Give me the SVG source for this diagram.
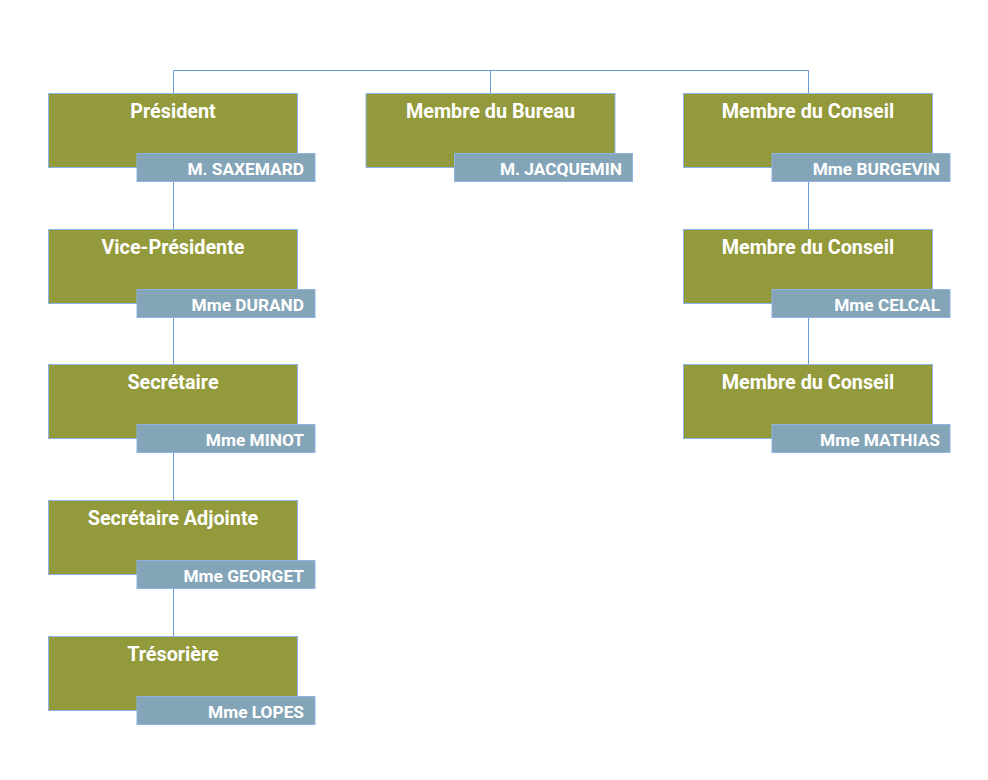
<svg xmlns="http://www.w3.org/2000/svg" width="988" height="780" viewBox="0 0 988 780">
<style>
.box{fill:#939A3B;stroke:#8EB4E3;stroke-width:1}
.nm{fill:#84A5B8;stroke:#8EB4E3;stroke-width:1}
.t{font-family:Roboto,"Liberation Sans",sans-serif;font-weight:bold;fill:#fff}
.tt{font-size:19.8px;text-anchor:middle}
.tn{font-size:17.3px;text-anchor:end}
.c{fill:none;stroke:#6A9AD8;stroke-width:1}
</style>
<rect width="988" height="780" fill="#fff"/>
<g id="connectors">
<path class="c" d="M173.5 93V70.5H808.5V93M490.5 70.5V93"/>
<path class="c" d="M173.5 182V229M173.5 318V364M173.5 453V500M173.5 589V636"/>
<path class="c" d="M808.5 182V229M808.5 318V364"/>
</g>
<g id="president">
<rect class="box" x="48.5" y="93.5" width="249" height="74"/>
<rect class="nm" x="137" y="153.5" width="178" height="28"/>
<text class="t tt" x="173" y="118">Président</text>
<text class="t tn" x="304" y="175">M. SAXEMARD</text>
</g>
<g id="vice-presidente">
<rect class="box" x="48.5" y="229.5" width="249" height="74"/>
<rect class="nm" x="137" y="289.5" width="178" height="28"/>
<text class="t tt" x="173" y="254">Vice-Présidente</text>
<text class="t tn" x="304" y="311">Mme DURAND</text>
</g>
<g id="secretaire">
<rect class="box" x="48.5" y="364.5" width="249" height="74"/>
<rect class="nm" x="137" y="424.5" width="178" height="28"/>
<text class="t tt" x="173" y="389">Secrétaire</text>
<text class="t tn" x="304" y="446">Mme MINOT</text>
</g>
<g id="secretaire-adjointe">
<rect class="box" x="48.5" y="500.5" width="249" height="74"/>
<rect class="nm" x="137" y="560.5" width="178" height="28"/>
<text class="t tt" x="173" y="525">Secrétaire Adjointe</text>
<text class="t tn" x="304" y="582">Mme GEORGET</text>
</g>
<g id="tresoriere">
<rect class="box" x="48.5" y="636.5" width="249" height="74"/>
<rect class="nm" x="137" y="696.5" width="178" height="28"/>
<text class="t tt" x="173" y="661">Trésorière</text>
<text class="t tn" x="304" y="718">Mme LOPES</text>
</g>
<g id="membre-bureau">
<rect class="box" x="366" y="93.5" width="249" height="74"/>
<rect class="nm" x="454.5" y="153.5" width="178" height="28"/>
<text class="t tt" x="490.5" y="118">Membre du Bureau</text>
<text class="t tn" x="622" y="175">M. JACQUEMIN</text>
</g>
<g id="conseil-1">
<rect class="box" x="683.5" y="93.5" width="249" height="74"/>
<rect class="nm" x="772" y="153.5" width="178" height="28"/>
<text class="t tt" x="808" y="118">Membre du Conseil</text>
<text class="t tn" x="940" y="175">Mme BURGEVIN</text>
</g>
<g id="conseil-2">
<rect class="box" x="683.5" y="229.5" width="249" height="74"/>
<rect class="nm" x="772" y="289.5" width="178" height="28"/>
<text class="t tt" x="808" y="254">Membre du Conseil</text>
<text class="t tn" x="940" y="311">Mme CELCAL</text>
</g>
<g id="conseil-3">
<rect class="box" x="683.5" y="364.5" width="249" height="74"/>
<rect class="nm" x="772" y="424.5" width="178" height="28"/>
<text class="t tt" x="808" y="389">Membre du Conseil</text>
<text class="t tn" x="940" y="446">Mme MATHIAS</text>
</g>
</svg>
